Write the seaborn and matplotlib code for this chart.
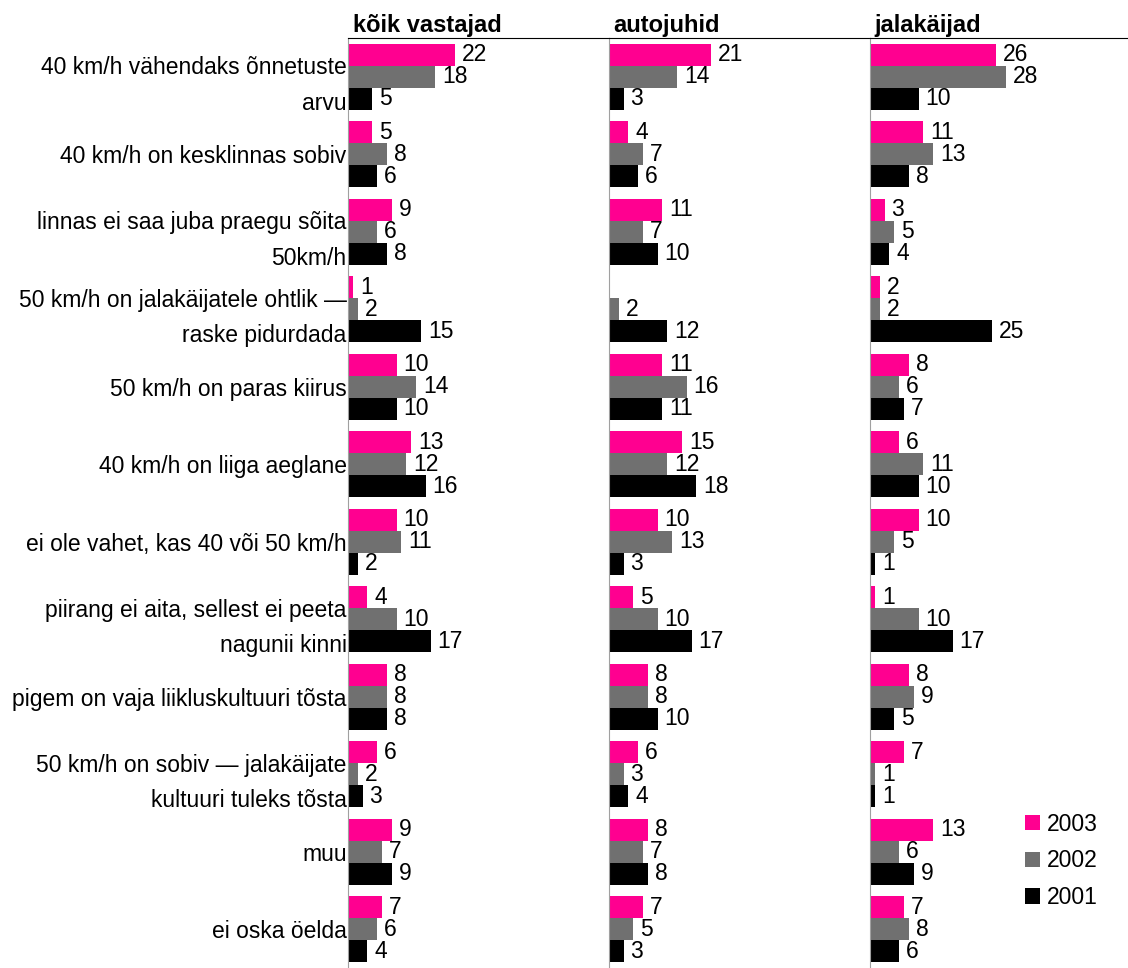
import pandas as pd
import matplotlib.pyplot as plt
import seaborn as sns

# kategooriad (ülevalt alla)
categories = [
    '40 km/h vähendaks õnnetuste\narvu',
    '40 km/h on kesklinnas sobiv',
    'linnas ei saa juba praegu sõita\n50km/h',
    '50 km/h on jalakäijatele ohtlik —\nraske pidurdada',
    '50 km/h on paras kiirus',
    '40 km/h on liiga aeglane',
    'ei ole vahet, kas 40 või 50 km/h',
    'piirang ei aita, sellest ei peeta\nnagunii kinni',
    'pigem on vaja liikluskultuuri tõsta',
    '50 km/h on sobiv — jalakäijate\nkultuuri tuleks tõsta',
    'muu',
    'ei oska öelda',
]
years = ['2003', '2002', '2001']
groups = ['kõik vastajad', 'autojuhid', 'jalakäijad']

# väärtused: [2003, 2002, 2001] iga kategooria kohta
koik_2003 = [22, 5, 9, 1, 10, 13, 10, 4, 8, 6, 9, 7]
koik_2002 = [18, 8, 6, 2, 14, 12, 11, 10, 8, 2, 7, 6]
koik_2001 = [5, 6, 8, 15, 10, 16, 2, 17, 8, 3, 9, 4]

auto_2003 = [21, 4, 11, 0, 11, 15, 10, 5, 8, 6, 8, 7]
auto_2002 = [14, 7, 7, 2, 16, 12, 13, 10, 8, 3, 7, 5]
auto_2001 = [3, 6, 10, 12, 11, 18, 3, 17, 10, 4, 8, 3]

jala_2003 = [26, 11, 3, 2, 8, 6, 10, 1, 8, 7, 13, 7]
jala_2002 = [28, 13, 5, 2, 6, 11, 5, 10, 9, 1, 6, 8]
jala_2001 = [10, 8, 4, 25, 7, 10, 1, 17, 5, 1, 9, 6]

data = {
    'kõik vastajad': [koik_2003, koik_2002, koik_2001],
    'autojuhid': [auto_2003, auto_2002, auto_2001],
    'jalakäijad': [jala_2003, jala_2002, jala_2001],
}

rows = []
for g in groups:
    for year, vals in zip(years, data[g]):
        for cat, v in zip(categories, vals):
            rows.append({'grupp': g, 'aasta': year, 'kategooria': cat, 'väärtus': v})
df = pd.DataFrame(rows)

colors = {'2003': '#ff0090', '2002': '#707070', '2001': '#000000'}
fs = 16.5

sns.set_style('white')
plt.rcParams['font.family'] = ['Liberation Sans', 'DejaVu Sans']
plt.rcParams['text.color'] = 'black'
plt.rcParams['axes.labelcolor'] = 'black'
plt.rcParams['ytick.color'] = 'black'

fig = plt.figure(figsize=(11.28, 9.68), dpi=100)
left0 = 348 / 1128
w = 261 / 1128
top = 1 - 38 / 968

for i, g in enumerate(groups):
    ax = fig.add_axes([left0 + i * w, 0.0, w, top])
    sub = df[df['grupp'] == g]
    sns.barplot(data=sub, y='kategooria', x='väärtus', hue='aasta',
                order=categories, hue_order=years, palette=colors,
                orient='h', width=0.85, gap=0, ax=ax, legend=(i == 2),
                saturation=1, errorbar=None, linewidth=0)
    for cont in ax.containers:
        labels = [f'{v:g}' if v > 0 else '' for v in cont.datavalues]
        ax.bar_label(cont, labels=labels, padding=5, fontsize=fs)
    ax.set_xlim(0, 53.7)
    ax.set_ylim(11.5, -0.5)
    ax.set_xlabel('')
    ax.set_ylabel('')
    ax.set_xticks([])
    ax.set_title(g, loc='left', fontweight='bold', fontsize=fs + 0.5, pad=4, x=0.018)
    for s in ['right', 'bottom']:
        ax.spines[s].set_visible(False)
    ax.spines['left'].set_color('#a0a0a0')
    ax.spines['top'].set_color('black')
    if i == 0:
        ax.tick_params(axis='y', length=0, pad=1, labelsize=fs)
        for t in ax.get_yticklabels():
            t.set_linespacing(1.7)
    else:
        ax.set_yticks([])
    if i == 2:
        handles, labs = ax.get_legend_handles_labels()
        ax.get_legend().remove()

fig.legend(handles, labs, loc='upper left', bbox_to_anchor=(1004 / 1128, 1 - 792 / 968),
           frameon=False, fontsize=fs, handlelength=0.65, handleheight=0.65,
           handletextpad=0.3, labelspacing=0.6)

fig.savefig('out.png', dpi=100)
